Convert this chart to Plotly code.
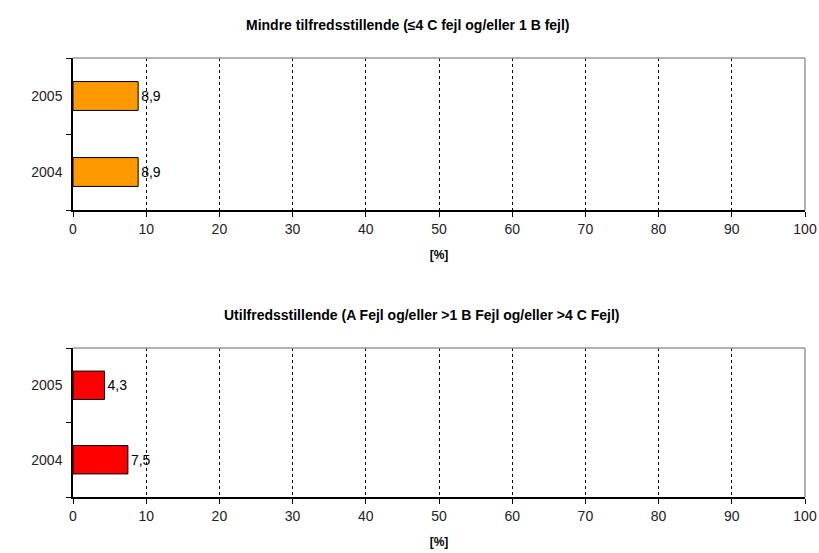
import plotly.graph_objects as go
from plotly.subplots import make_subplots

years = ["2004", "2005"]
mindre = [8.9, 8.9]
utilfreds = [7.5, 4.3]
title_top = "Mindre tilfredsstillende (≤4 C fejl og/eller 1 B fejl)"
title_bottom = "Utilfredsstillende (A Fejl og/eller >1 B Fejl og/eller >4 C Fejl)"
x_ticks = list(range(0, 101, 10))
x_label = "[%]"

W, H = 819, 553
FONT = "Liberation Sans, Arial"
def px_(pix):
    return pix / W
def py(pix):
    return 1 - pix / H

fig = make_subplots(rows=2, cols=1)

def fmt(v):
    return f"{v:.1f}".replace(".", ",")

fig.add_trace(go.Bar(y=years, x=mindre, orientation="h",
                     marker=dict(color="#FF9900", line=dict(color="#000000", width=1)),
                     text=[fmt(v) for v in mindre], textposition="outside",
                     textfont=dict(family=FONT, size=14, color="#000"),
                     cliponaxis=False, showlegend=False), row=1, col=1)
fig.add_trace(go.Bar(y=years, x=utilfreds, orientation="h",
                     marker=dict(color="#FF0000", line=dict(color="#000000", width=1)),
                     text=[fmt(v) for v in utilfreds], textposition="outside",
                     textfont=dict(family=FONT, size=14, color="#000"),
                     cliponaxis=False, showlegend=False), row=2, col=1)

xdom = [px_(73), px_(805)]
xcommon = dict(range=[0, 100], tickvals=x_ticks, showgrid=True, gridcolor="#000000",
               griddash="dot", gridwidth=1, showline=True, linecolor="#000000", linewidth=2,
               ticks="outside", ticklen=5, tickcolor="#000000", zeroline=False,
               tickfont=dict(family=FONT, size=14, color="#222"),
               title=dict(text="<b>" + x_label + "</b>", font=dict(family=FONT, size=12, color="#000"), standoff=15),
               domain=xdom, fixedrange=True, automargin=False)
ycommon = dict(showline=True, linecolor="#000000", linewidth=1.5, ticks="outside", ticklen=5,
               tickcolor="#000000", tickson="boundaries", showgrid=False, ticklabelstandoff=6,
               tickfont=dict(family=FONT, size=14, color="#222"),
               categoryorder="array", categoryarray=years, fixedrange=True, automargin=False)

fig.update_xaxes(**xcommon, row=1, col=1)
fig.update_xaxes(**xcommon, row=2, col=1)
fig.update_yaxes(**ycommon, domain=[py(210), py(58)], row=1, col=1)
fig.update_yaxes(**ycommon, domain=[py(497), py(348)], row=2, col=1)

for xr, yr in [("x", "y"), ("x2", "y2")]:
    fig.add_shape(type="line", xref=f"{xr} domain", yref=f"{yr} domain", x0=0, x1=1, y0=1, y1=1,
                  line=dict(color="#999999", width=1.5))
    fig.add_shape(type="line", xref=f"{xr} domain", yref=f"{yr} domain", x0=1, x1=1, y0=0, y1=1,
                  line=dict(color="#999999", width=1.5))

fig.add_annotation(text="<b>" + title_top + "</b>", x=px_(408), y=py(25), xref="paper", yref="paper",
                   xanchor="center", yanchor="middle",
                   showarrow=False, font=dict(family=FONT, size=14, color="#000"))
fig.add_annotation(text="<b>" + title_bottom + "</b>", x=px_(422), y=py(315), xref="paper", yref="paper",
                   xanchor="center", yanchor="middle",
                   showarrow=False, font=dict(family=FONT, size=14, color="#000"))

fig.update_layout(width=W, height=H, margin=dict(l=0, r=0, t=0, b=0),
                  paper_bgcolor="#FFFFFF", plot_bgcolor="#FFFFFF", bargap=0.62,
                  font=dict(family=FONT), hovermode=False)

fig.write_html("out.html", config={"displayModeBar": False},
               post_script="document.body.style.margin='0';document.body.style.overflow='hidden';")
